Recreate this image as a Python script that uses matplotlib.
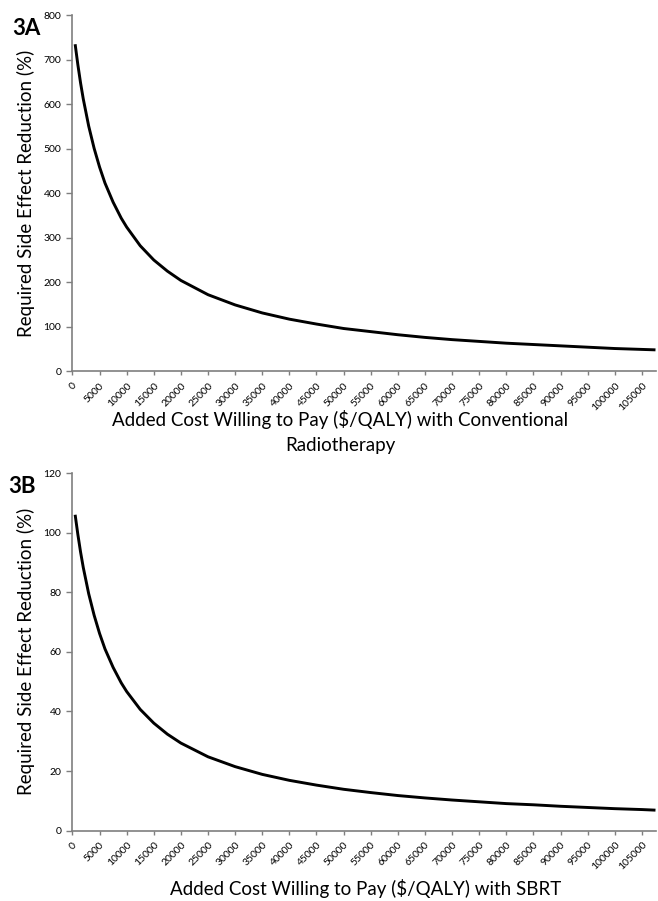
import numpy as np
import matplotlib.pyplot as plt

plt.rcParams['font.family'] = ['Lato', 'DejaVu Sans']

# values
wtp = [500, 1000, 1500, 2000, 3000, 4000, 5000, 6000, 7500, 9000, 10000,
       12500, 15000, 17500, 20000, 25000, 30000, 35000, 40000, 45000, 50000,
       55000, 60000, 65000, 70000, 75000, 80000, 85000, 90000, 95000, 100000,
       105000, 107500]
red_conv = [735, 689, 648, 612, 551, 501, 459, 423, 380, 344, 324,
            282, 250, 225, 204, 172, 149, 131, 117, 106, 96,
            89, 82, 76, 71, 67, 63, 60, 57, 54, 51,
            49, 48]
red_sbrt = [106, 99.4, 93.5, 88.3, 79.5, 72.3, 66.2, 61.0, 54.8, 49.6, 46.7,
            40.7, 36.1, 32.4, 29.4, 24.8, 21.5, 18.9, 16.9, 15.3, 13.9,
            12.8, 11.8, 11.0, 10.3, 9.7, 9.1, 8.7, 8.2, 7.8, 7.4,
            7.1, 6.9]
xticks = list(range(0, 105001, 5000))

panels = [
    ("3A", red_conv, [0, 100, 200, 300, 400, 500, 600, 700, 800],
     "Added Cost Willing to Pay ($/QALY) with Conventional\nRadiotherapy",
     (0.459, -0.108), (-0.101, 0.992)),
    ("3B", red_sbrt, [0, 20, 40, 60, 80, 100, 120],
     "Added Cost Willing to Pay ($/QALY) with SBRT",
     (0.503, -0.136), (-0.108, 0.992)),
]

fig = plt.figure(figsize=(6.58, 9.01), dpi=100)
boxes = [[0.109, 0.588, 0.888, 0.395], [0.109, 0.078, 0.888, 0.397]]
spine_col = '#7f7f7f'

for box, (tag, vals, yt, xlab, lab_xy, tag_xy) in zip(boxes, panels):
    ax = fig.add_axes(box)
    ax.plot(wtp, vals, color='black', lw=2.1, solid_capstyle='butt')
    ax.set_xlim(-130, 107600)
    ax.set_ylim(yt[0], yt[-1])
    ax.set_yticks(yt)
    ax.set_xticks(xticks)
    ax.set_xticklabels([str(t) for t in xticks], rotation=45, ha='right',
                       rotation_mode='anchor', fontsize=7.5)
    ax.tick_params(axis='y', labelsize=7.5, length=4, color=spine_col, width=1)
    ax.tick_params(axis='x', length=3, color=spine_col, width=1, pad=4)
    for s in ['top', 'right']:
        ax.spines[s].set_visible(False)
    for s in ['left', 'bottom']:
        ax.spines[s].set_color(spine_col)
        ax.spines[s].set_linewidth(1.2)
    ax.set_ylabel("Required Side Effect Reduction (%)", fontsize=13.5, labelpad=6)
    ax.set_xlabel(xlab, fontsize=13.5, linespacing=1.6)
    ax.xaxis.set_label_coords(*lab_xy)
    ax.text(tag_xy[0], tag_xy[1], tag, transform=ax.transAxes, fontsize=16,
            fontweight='bold', va='top', ha='left')

fig.savefig("out.png", dpi=100)
